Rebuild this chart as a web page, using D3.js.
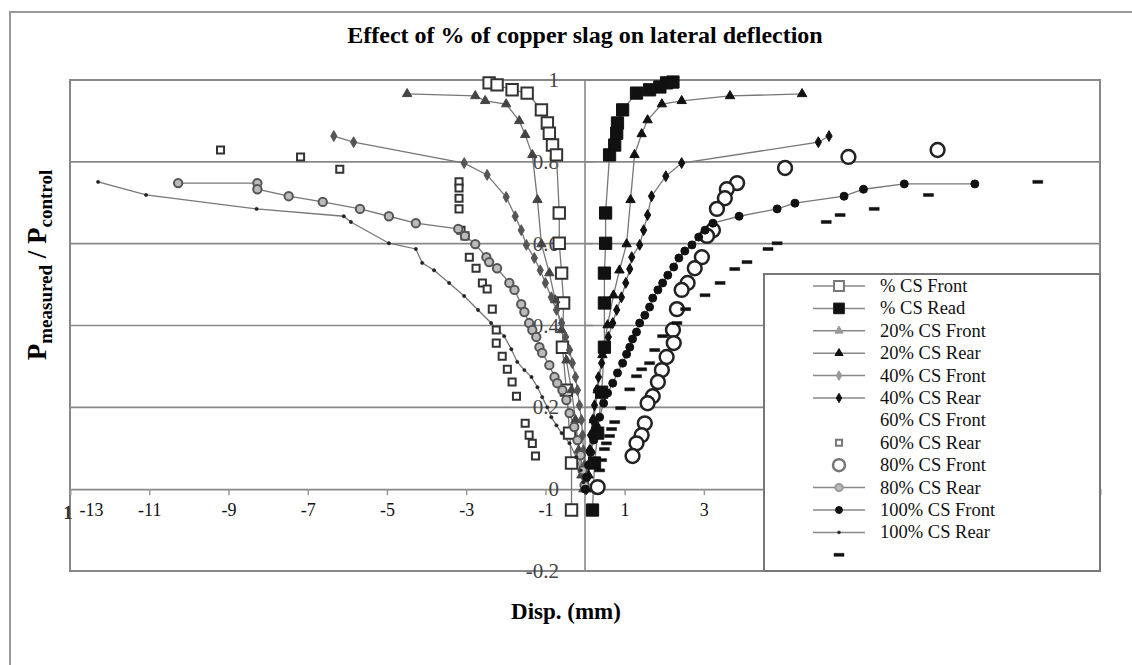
<!DOCTYPE html>
<html>
<head>
<meta charset="utf-8">
<script src="https://cdnjs.cloudflare.com/ajax/libs/d3/7.8.5/d3.min.js"></script>
<style>
  body { margin: 0; background: #fff; }
  svg { display: block; font-family: "Liberation Serif", "Times New Roman", serif; }
</style>
</head>
<body>
<div class="chart"></div>
<script>
// ---- data (disp in mm, P ratio) ----
let cs0FrontX = [-2.42, -2.22, -1.84, -1.46, -1.10, -0.95, -0.90, -0.82, -0.72, -0.65, -0.65, -0.59, -0.54, -0.57, -0.47, -0.39, -0.34, -0.34]
let cs0FrontY = [0.993, 0.988, 0.976, 0.968, 0.927, 0.895, 0.870, 0.841, 0.817, 0.675, 0.601, 0.528, 0.455, 0.347, 0.242, 0.137, 0.064, -0.051]

let cs0RearX = [2.22, 2.06, 1.89, 1.63, 1.30, 0.95, 0.82, 0.80, 0.75, 0.62, 0.52, 0.52, 0.49, 0.49, 0.49, 0.42, 0.32, 0.24, 0.19]
let cs0RearY = [0.995, 0.993, 0.983, 0.976, 0.968, 0.927, 0.895, 0.870, 0.841, 0.817, 0.675, 0.601, 0.528, 0.455, 0.347, 0.237, 0.137, 0.064, -0.051]

let cs20FrontX = [-4.49, -2.77, -2.52, -1.99, -1.66, -1.51, -1.33, -1.20, -1.10, -0.90, -0.75, -0.59, -0.47, -0.34, -0.24, -0.16, -0.09, -0.04]
let cs20FrontY = [0.966, 0.961, 0.949, 0.941, 0.900, 0.866, 0.817, 0.707, 0.599, 0.528, 0.462, 0.389, 0.315, 0.242, 0.169, 0.095, 0.034, 0]

let cs20RearX = [5.48, 3.66, 2.44, 1.94, 1.58, 1.43, 1.25, 1.15, 1.05, 0.87, 0.72, 0.57, 0.44, 0.32, 0.22, 0.14, 0.09, 0.04]
let cs20RearY = [0.966, 0.961, 0.949, 0.941, 0.902, 0.868, 0.817, 0.707, 0.599, 0.535, 0.474, 0.401, 0.328, 0.242, 0.169, 0.095, 0.034, 0]

let cs40FrontX = [-6.34, -5.84, -3.05, -2.47, -1.99, -1.76, -1.61, -1.48, -1.28, -1.13, -1.00, -0.85, -0.72, -0.59, -0.49, -0.39, -0.32, -0.24, -0.19, -0.14, -0.09, -0.06, -0.04, -0.01, -0.01, 0]
let cs40FrontY = [0.863, 0.848, 0.797, 0.768, 0.714, 0.667, 0.633, 0.597, 0.565, 0.535, 0.504, 0.469, 0.438, 0.406, 0.372, 0.340, 0.308, 0.274, 0.242, 0.205, 0.169, 0.132, 0.095, 0.059, 0.027, 0]

let cs40RearX = [6.16, 5.89, 2.44, 2.04, 1.68, 1.58, 1.48, 1.38, 1.18, 1.13, 1.03, 0.92, 0.80, 0.70, 0.59, 0.49, 0.42, 0.34, 0.29, 0.24, 0.19, 0.14, 0.11, 0.09, 0.06, 0.04]
let cs40RearY = [0.863, 0.848, 0.797, 0.765, 0.716, 0.670, 0.633, 0.597, 0.567, 0.538, 0.504, 0.469, 0.438, 0.406, 0.372, 0.340, 0.308, 0.274, 0.242, 0.205, 0.169, 0.132, 0.095, 0.059, 0.027, 0]

let cs60X = [-9.20, -7.18, -6.19, -3.18, -3.18, -3.18, -3.18, -3.13, -3.03, -2.92, -2.75, -2.59, -2.47, -2.34, -2.24, -2.24, -2.09, -1.96, -1.84, -1.73, -1.51, -1.41, -1.33, -1.25]
let cs60Y = [0.829, 0.812, 0.782, 0.751, 0.736, 0.711, 0.685, 0.633, 0.619, 0.567, 0.540, 0.504, 0.489, 0.440, 0.389, 0.357, 0.325, 0.293, 0.262, 0.227, 0.161, 0.132, 0.112, 0.081]

let cs80FrontX = [8.90, 6.65, 5.05, 3.84, 3.58, 3.53, 3.33, 3.23, 3.08, 2.95, 2.77, 2.59, 2.44, 2.32, 2.22, 2.24, 2.06, 1.94, 1.84, 1.71, 1.58, 1.51, 1.43, 1.30, 1.20, 0.32]
let cs80FrontY = [0.829, 0.812, 0.785, 0.748, 0.733, 0.711, 0.685, 0.633, 0.619, 0.567, 0.540, 0.504, 0.487, 0.440, 0.389, 0.357, 0.323, 0.291, 0.262, 0.227, 0.210, 0.161, 0.132, 0.112, 0.081, 0.005]

let cs80RearX = [-10.27, -8.27, -8.27, -7.48, -6.62, -5.68, -4.95, -4.27, -3.20, -3.03, -2.77, -2.49, -2.42, -2.22, -1.91, -1.78, -1.61, -1.53, -1.41, -1.33, -1.23, -1.15, -1.08, -0.90, -0.77, -0.70, -0.57, -0.47, -0.39, -0.27, -0.19, -0.11, -0.06, -0.01]
let cs80RearY = [0.748, 0.748, 0.733, 0.716, 0.702, 0.685, 0.667, 0.650, 0.636, 0.619, 0.599, 0.567, 0.555, 0.540, 0.504, 0.487, 0.452, 0.433, 0.406, 0.389, 0.372, 0.347, 0.333, 0.303, 0.274, 0.259, 0.242, 0.218, 0.186, 0.152, 0.120, 0.083, 0.046, 0.010]

let cs100FrontX = [9.84, 8.06, 7.03, 6.54, 5.30, 4.85, 3.89, 3.23, 3.03, 2.87, 2.70, 2.52, 2.37, 2.24, 2.09, 1.96, 1.84, 1.71, 1.63, 1.51, 1.38, 1.30, 1.20, 1.13, 1.05, 0.95, 0.82, 0.70, 0.57, 0.47, 0.37, 0.29, 0.22, 0.14, 0.09, 0.04, 0.01]
let cs100FrontY = [0.746, 0.746, 0.733, 0.716, 0.699, 0.685, 0.667, 0.650, 0.633, 0.616, 0.597, 0.582, 0.565, 0.543, 0.523, 0.504, 0.487, 0.467, 0.445, 0.425, 0.406, 0.384, 0.367, 0.347, 0.330, 0.308, 0.284, 0.259, 0.235, 0.210, 0.176, 0.152, 0.120, 0.090, 0.059, 0.029, 0]

let cs100RearX = [-12.29, -11.08, -8.29, -6.09, -5.91, -4.95, -4.27, -4.11, -3.81, -3.43, -3.05, -2.70, -2.37, -2.04, -1.86, -1.71, -1.53, -1.35, -1.20, -1.08, -0.95, -0.85, -0.72, -0.59, -0.39, -0.22, -0.11, -0.04]
let cs100RearY = [0.751, 0.719, 0.685, 0.667, 0.653, 0.601, 0.587, 0.553, 0.535, 0.504, 0.472, 0.438, 0.406, 0.374, 0.342, 0.311, 0.291, 0.274, 0.249, 0.225, 0.200, 0.176, 0.156, 0.137, 0.112, 0.078, 0.046, 0.017]

let extraX = [11.43, 8.67, 7.30, 6.44, 6.09, 4.85, 4.62, 4.09, 3.78, 3.41, 3.03, 2.54, 2.32, 1.96, 1.76, 1.63, 1.43, 1.30, 1.13, 0.90, 0.75, 0.67, 0.62, 0.54, 0.49, 0.42, 0.37]
let extraY = [0.751, 0.719, 0.685, 0.670, 0.653, 0.601, 0.587, 0.555, 0.538, 0.504, 0.474, 0.440, 0.406, 0.374, 0.340, 0.308, 0.293, 0.276, 0.244, 0.198, 0.164, 0.147, 0.130, 0.112, 0.098, 0.071, 0.046]

let xTicks = [-13, -11, -9, -7, -5, -3, -1, 1, 3]
let yTicks = [1, 0.8, 0.6, 0.4, 0.2, 0, -0.2]
let yTickLabels = ['1', '0.8', '0.6', '0.4', '0.2', '0', '-0.2']

let legendNames = ['% CS Front', '% CS Read', '20% CS Front', '20% CS Rear', '40% CS Front', '40% CS Rear',
    '60% CS Front', '60%  CS Rear', '80% CS Front', '80% CS Rear', '100% CS Front', '100% CS Rear', '']
let legendMarks = ['sqOpen', 'sqFill', 'triGray', 'triBlack', 'diaGray', 'diaBlack',
    'none', 'sqSmall', 'circBig', 'circGray', 'circFill', 'dot', 'dash']
let legendLines = [true, true, true, true, true, true, false, false, false, true, true, true, false]

// series in drawing order
let series = [
    { xs: cs0FrontX, ys: cs0FrontY, mark: 'sqOpen', line: true },
    { xs: cs0RearX, ys: cs0RearY, mark: 'sqFill', line: true },
    { xs: cs20FrontX, ys: cs20FrontY, mark: 'triGray', line: true },
    { xs: cs20RearX, ys: cs20RearY, mark: 'triBlack', line: true },
    { xs: cs40FrontX, ys: cs40FrontY, mark: 'diaGray', line: true },
    { xs: cs40RearX, ys: cs40RearY, mark: 'diaBlack', line: true },
    { xs: cs60X, ys: cs60Y, mark: 'sqSmall', line: false },
    { xs: cs80FrontX, ys: cs80FrontY, mark: 'circBig', line: false },
    { xs: cs80RearX, ys: cs80RearY, mark: 'circGray', line: true },
    { xs: cs100FrontX, ys: cs100FrontY, mark: 'circFill', line: true },
    { xs: cs100RearX, ys: cs100RearY, mark: 'dot', line: true },
    { xs: extraX, ys: extraY, mark: 'dash', line: false }
]

// marker look
let markStyle = {
    sqOpen:   { sym: d3.symbolSquare, size: 130, fill: '#fff', stroke: '#333', sw: 2 },
    sqFill:   { sym: d3.symbolSquare, size: 150, fill: '#111', stroke: '#111', sw: 1 },
    triGray:  { sym: d3.symbolTriangle, size: 38, fill: '#444', stroke: '#444', sw: 1 },
    triBlack: { sym: d3.symbolTriangle, size: 38, fill: '#111', stroke: '#111', sw: 1 },
    diaGray:  { sym: d3.symbolDiamond, size: 34, fill: '#555', stroke: '#555', sw: 1 },
    diaBlack: { sym: d3.symbolDiamond, size: 34, fill: '#111', stroke: '#111', sw: 1 },
    sqSmall:  { sym: d3.symbolSquare, size: 50, fill: '#fff', stroke: '#333', sw: 2 },
    circBig:  { sym: d3.symbolCircle, size: 150, fill: '#fff', stroke: '#222', sw: 2.5 },
    circGray: { sym: d3.symbolCircle, size: 55, fill: '#bbb', stroke: '#555', sw: 2 },
    circFill: { sym: d3.symbolCircle, size: 50, fill: '#111', stroke: '#111', sw: 1 },
    dot:      { sym: d3.symbolCircle, size: 9, fill: '#222', stroke: '#222', sw: 0.5 },
    dash:     { path: 'M-5,-1.5h10v3h-10z', fill: '#111', stroke: '#111', sw: 0.5 }
}

// legend symbols are drawn lighter/smaller in the picture
let legendTone = {
    sqOpen: { fill: '#fff', stroke: '#777' }, triGray: { fill: '#999', stroke: '#999' },
    diaGray: { fill: '#999', stroke: '#999' }, sqSmall: { fill: '#fff', stroke: '#777' },
    circBig: { fill: '#fff', stroke: '#777' }, circGray: { fill: '#bbb', stroke: '#999' }
}

function markPath(type, scale) {
    let s = markStyle[type]
    return s.path ? s.path : d3.symbol().type(s.sym).size(s.size * (scale || 1))()
}

function addMarks(sel, type, scale, tone) {
    let s = Object.assign({}, markStyle[type], tone || {})
    sel.attr('d', markPath(type, scale))
        .attr('fill', s.fill)
        .attr('stroke', s.stroke)
        .attr('stroke-width', s.sw)
}

let W = 1132, H = 665
let plot = { left: 70, top: 80, right: 1100, bottom: 571 }

let svg = d3.select('.chart')
    .append('svg')
    .attr('width', W)
    .attr('height', H)

// outer frame (only left/top visible)
svg.append('rect')
    .attr('x', 10).attr('y', 12)
    .attr('width', 1140).attr('height', 700)
    .attr('fill', 'none').attr('stroke', '#999').attr('stroke-width', 2)

svg.append('text')
    .attr('x', 585).attr('y', 43)
    .attr('text-anchor', 'middle')
    .style('font-size', '24px').style('font-weight', 'bold')
    .text('Effect of % of copper slag on lateral deflection')

let xScale = d3.scaleLinear().domain([-13, 13]).range([plot.left, plot.right])
let yScale = d3.scaleLinear().domain([-0.2, 1]).range([plot.bottom, plot.top])

// grid lines
svg.append('g')
    .selectAll('line')
    .data([0.8, 0.6, 0.4, 0.2])
    .join('line')
    .attr('x1', plot.left).attr('x2', plot.right)
    .attr('y1', d => yScale(d)).attr('y2', d => yScale(d))
    .attr('stroke', '#888').attr('stroke-width', 1.6)

// plot frame
svg.append('rect')
    .attr('x', plot.left).attr('y', plot.top)
    .attr('width', plot.right - plot.left).attr('height', plot.bottom - plot.top)
    .attr('fill', 'none').attr('stroke', '#888').attr('stroke-width', 2)

// vertical axis at x = 0
svg.append('line')
    .attr('x1', xScale(0)).attr('x2', xScale(0))
    .attr('y1', plot.top).attr('y2', plot.bottom)
    .attr('stroke', '#888').attr('stroke-width', 1.6)

// x axis along y = 0
let xAxis = d3.axisBottom(xScale)
    .tickValues(d3.range(-13, 14, 2))
    .tickSize(6)
    .tickFormat(d => xTicks.includes(d) ? String(d) : '')
let gx = svg.append('g')
    .attr('transform', `translate(0,${yScale(0)})`)
    .call(xAxis)
gx.select('.domain').attr('stroke', '#888').attr('stroke-width', 1.6)
gx.selectAll('.tick line').attr('stroke', '#999').attr('stroke-width', 1.5)
gx.selectAll('.tick text')
    .attr('fill', '#111')
    .attr('dy', '1.0em')
    .style('font-family', '"Liberation Serif", serif')
    .style('font-size', '18px')
    .attr('dx', d => d === -13 ? 21 : 0)
// stray digit at the left end of the axis
svg.append('text')
    .attr('x', 68).attr('y', yScale(0) + 30)
    .attr('text-anchor', 'middle')
    .style('font-size', '19px').style('font-weight', 'bold').attr('fill', '#333')
    .text('1')

// y labels sit next to the vertical axis
svg.append('g')
    .selectAll('text')
    .data(yTicks)
    .join('text')
    .attr('x', xScale(0) - 26)
    .attr('y', d => yScale(d) + 7)
    .attr('text-anchor', 'end')
    .attr('fill', '#444')
    .style('font-size', '21px')
    .text((d, i) => yTickLabels[i])
svg.append('g')
    .selectAll('line')
    .data(yTicks)
    .join('line')
    .attr('x1', xScale(0)).attr('x2', xScale(0) + 8)
    .attr('y1', d => yScale(d)).attr('y2', d => yScale(d))
    .attr('stroke', '#888').attr('stroke-width', 1.5)

// series lines
let line = d3.line().x(d => xScale(d[0])).y(d => yScale(d[1]))
series.filter(s => s.line).forEach(s => {
    let pts = s.xs.map((x, i) => [x, s.ys[i]])
    svg.append('path')
        .datum(pts)
        .attr('d', line)
        .attr('fill', 'none')
        .attr('stroke', '#777')
        .attr('stroke-width', 1.3)
})

// markers
series.forEach(s => {
    let pts = s.xs.map((x, i) => [x, s.ys[i]])
    svg.append('g')
        .selectAll('path')
        .data(pts)
        .join('path')
        .attr('transform', d => `translate(${xScale(d[0])},${yScale(d[1])})`)
        .call(addMarks, s.mark)
})

// axis titles
let yt = svg.append('text')
    .attr('transform', 'translate(46,265) rotate(-90)')
    .attr('text-anchor', 'middle')
    .style('font-weight', 'bold')
yt.append('tspan').style('font-size', '27px').text('P')
yt.append('tspan').style('font-size', '19px').attr('dy', 6).text('measured')
yt.append('tspan').style('font-size', '27px').attr('dy', -6).text(' / P')
yt.append('tspan').style('font-size', '19px').attr('dy', 6).text('control')

svg.append('text')
    .attr('x', 566).attr('y', 619)
    .attr('text-anchor', 'middle')
    .style('font-size', '23px').style('font-weight', 'bold')
    .text('Disp. (mm)')

// legend
let lg = svg.append('g').attr('transform', 'translate(764,274)')
lg.append('rect')
    .attr('width', 336).attr('height', 297)
    .attr('fill', '#fff').attr('stroke', '#777').attr('stroke-width', 2)
let rows = lg.selectAll('g.row')
    .data(legendNames)
    .join('g')
    .attr('class', 'row')
    .attr('transform', (d, i) => `translate(0,${12 + i * 22.4})`)
rows.filter((d, i) => legendLines[i])
    .append('line')
    .attr('x1', 49).attr('x2', 101)
    .attr('stroke', '#888').attr('stroke-width', 1.5)
rows.each(function (d, i) {
    let k = legendMarks[i]
    if (k === 'none') return
    d3.select(this).append('path')
        .attr('transform', 'translate(75,0)')
        .call(addMarks, k, 0.75, legendTone[k])
})
rows.append('text')
    .attr('x', 116).attr('y', 6)
    .style('font-size', '18.5px')
    .attr('fill', '#111')
    .text(d => d)
</script>
</body>
</html>
